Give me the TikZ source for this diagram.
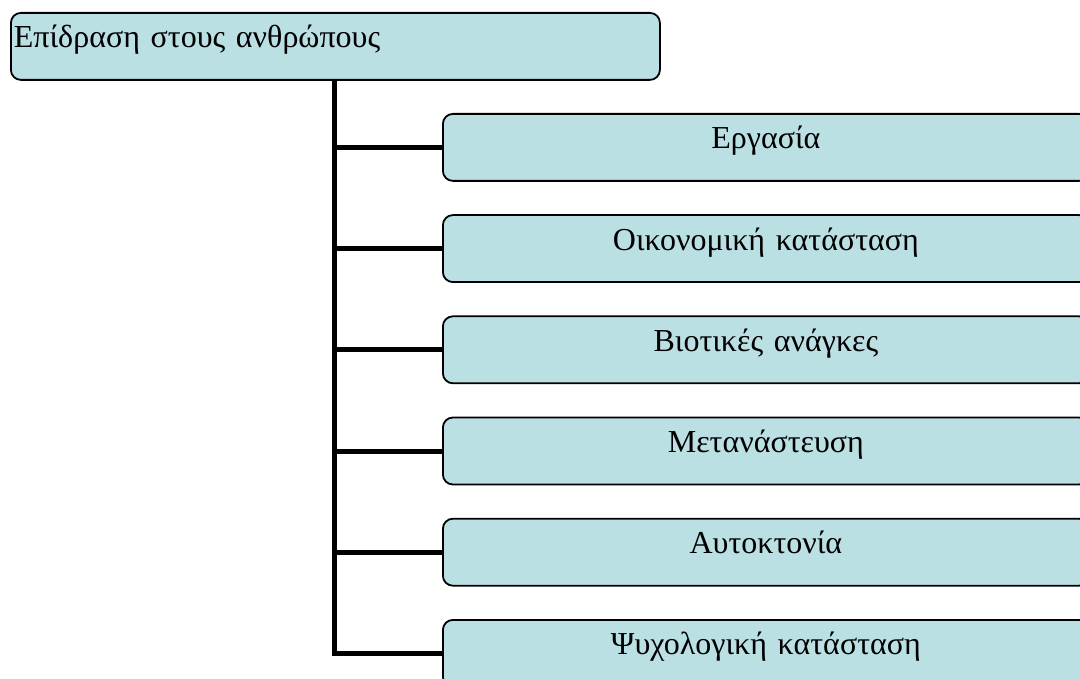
\documentclass[tikz,border=0pt]{standalone}
\usepackage{fontspec}
\setmainfont{Liberation Serif}
\definecolor{boxfill}{RGB}{187,224,227}
\tikzset{
  box/.style={draw=black, line width=1.8pt, fill=boxfill, rounded corners=10pt,
    inner xsep=0pt, inner ysep=0pt, anchor=north west,
    font=\fontsize{32}{38}\selectfont, text height=35pt, text depth=32pt},
  topbox/.style={box, text width=643pt, align=left},
  childbox/.style={box, text width=646pt, align=center},
  conn/.style={line width=5pt, line join=miter, line cap=butt}
}
\begin{document}
\begin{tikzpicture}[x=1pt, y=-1pt]
\useasboundingbox (0,0) rectangle (1080,679);
\clip (0,0) rectangle (1080,679);
\node[topbox, inner xsep=3pt] (top) at (10,12) {Επίδραση στους ανθρώπους};
\node[childbox] (c1) at (442,113) {Εργασία};
\node[childbox] (c2) at (442,214.2) {Οικονομική κατάσταση};
\node[childbox] (c3) at (442,315.4) {Βιοτικές ανάγκες};
\node[childbox] (c4) at (442,416.6) {Μετανάστευση};
\node[childbox] (c5) at (442,517.8) {Αυτοκτονία};
\node[childbox] (c6) at (442,619) {Ψυχολογική κατάσταση};
\coordinate (trunk) at (334.5,0);
\draw[conn] (top.south -| trunk) -- (trunk |- c6.west) -- (c6.west);
\foreach \c in {c1,c2,c3,c4,c5}{
  \draw[conn] (trunk |- \c.west) -- (\c.west);
}
\end{tikzpicture}
\end{document}
